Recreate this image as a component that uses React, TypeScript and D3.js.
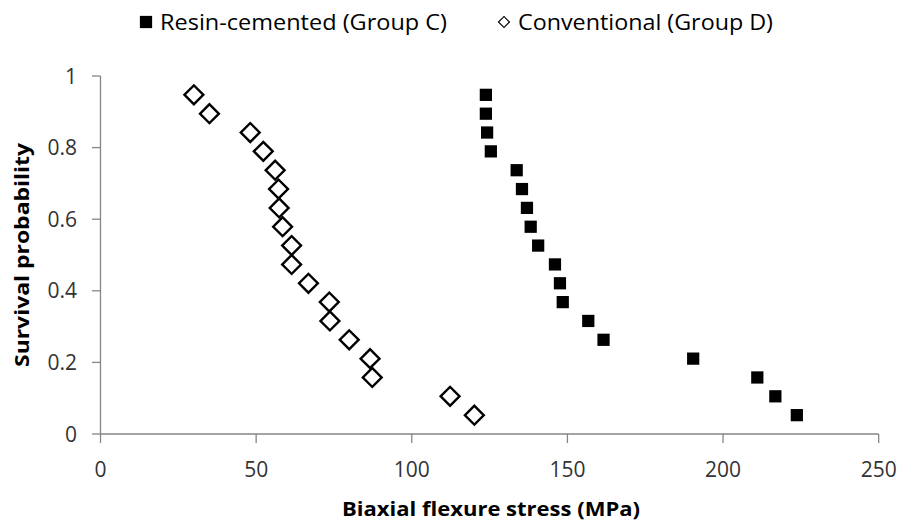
import React from 'react';
import * as d3 from 'd3';

// survival probability ranks (k / 19), shared by both groups
const probabilities = [18, 17, 16, 15, 14, 13, 12, 11, 10, 9, 8, 7, 6, 5, 4, 3, 2, 1].map(k => k / 19);

// Resin-cemented (Group C) stress values, MPa
const groupC = [123.8, 123.8, 124.2, 125.4, 133.7, 135.4, 137.0, 138.2, 140.6, 146.0, 147.6, 148.5, 156.7, 161.6, 190.4, 211.0, 216.8, 223.7];
// Conventional (Group D) stress values, MPa
const groupD = [30.0, 35.0, 48.1, 52.3, 56.1, 57.2, 57.4, 58.5, 61.4, 61.4, 66.8, 73.5, 73.7, 79.9, 86.6, 87.3, 112.3, 120.1];

const xTicks = [0, 50, 100, 150, 200, 250];
const yTicks = [0, 0.2, 0.4, 0.6, 0.8, 1];

const WIDTH = 900;
const HEIGHT = 522;
const FONT = '"Open Sans", "Noto Sans", sans-serif';
const AXIS = '#868686';
const TEXT = '#333';

const App = () => {
    const x = d3.scaleLinear().domain([0, 250]).range([100.5, 878.7]);
    const y = d3.scaleLinear().domain([0, 1]).range([434, 76]);

    const square = d3.symbol().type(d3.symbolSquare).size(150)();
    const diamond = d3.symbol().type(d3.symbolSquare).size(178)();

    const [x0, x1] = x.range();
    const [y0, y1] = y.range();

    return (
        <svg width={WIDTH} height={HEIGHT} style={{ position: 'absolute', left: 0, top: 0, background: '#fff' }}>
            {/* legend */}
            <g fontFamily={FONT} fontSize={21} fill="#000">
                <path d={square} transform="translate(146,22)" fill="#000" />
                <text x={160} y={29.5} textLength={287} lengthAdjust="spacingAndGlyphs">Resin-cemented (Group C)</text>
                <path d={d3.symbol().type(d3.symbolSquare).size(60)()} transform="translate(504,22) rotate(45)" fill="#fff" stroke="#000" strokeWidth={1.2} />
                <text x={518} y={29.5} textLength={255} lengthAdjust="spacingAndGlyphs">Conventional (Group D)</text>
            </g>

            {/* axes */}
            <line x1={x0} x2={x0} y1={y1} y2={y0} stroke={AXIS} strokeWidth={1.3} />
            <line x1={x0} x2={x1} y1={y0} y2={y0} stroke={AXIS} strokeWidth={1.3} />
            {yTicks.map(t => (
                <g key={'y' + t}>
                    <line x1={x0 - 8.5} x2={x0} y1={y(t)} y2={y(t)} stroke={AXIS} strokeWidth={1.3} />
                    <text x={77} y={y(t)} dy="0.36em" textAnchor="end" fontFamily={FONT} fontSize={21} fill={TEXT}>{t}</text>
                </g>
            ))}
            {xTicks.map(t => (
                <g key={'x' + t}>
                    <line x1={x(t)} x2={x(t)} y1={y0} y2={y0 + 9} stroke={AXIS} strokeWidth={1.3} />
                    <text x={x(t)} y={469} dy="0.36em" textAnchor="middle" fontFamily={FONT} fontSize={21} fill={TEXT}>{t}</text>
                </g>
            ))}

            {/* axis titles */}
            <text x={491} y={516} textAnchor="middle" fontFamily={FONT} fontSize={20} fontWeight="bold" fill="#000"
                textLength={298} lengthAdjust="spacingAndGlyphs">Biaxial flexure stress (MPa)</text>
            <text transform="translate(29,255) rotate(-90)" textAnchor="middle" fontFamily={FONT} fontSize={20} fontWeight="bold" fill="#000"
                textLength={224} lengthAdjust="spacingAndGlyphs">Survival probability</text>

            {/* Group C squares */}
            {groupC.map((v, i) => (
                <path key={'c' + i} d={square} transform={`translate(${x(v)},${y(probabilities[i])})`} fill="#000" />
            ))}
            {/* Group D diamonds */}
            {groupD.map((v, i) => (
                <path key={'d' + i} d={diamond} transform={`translate(${x(v)},${y(probabilities[i])}) rotate(45)`}
                    fill="none" stroke="#000" strokeWidth={2.4} />
            ))}
        </svg>
    );
};

export default App;
